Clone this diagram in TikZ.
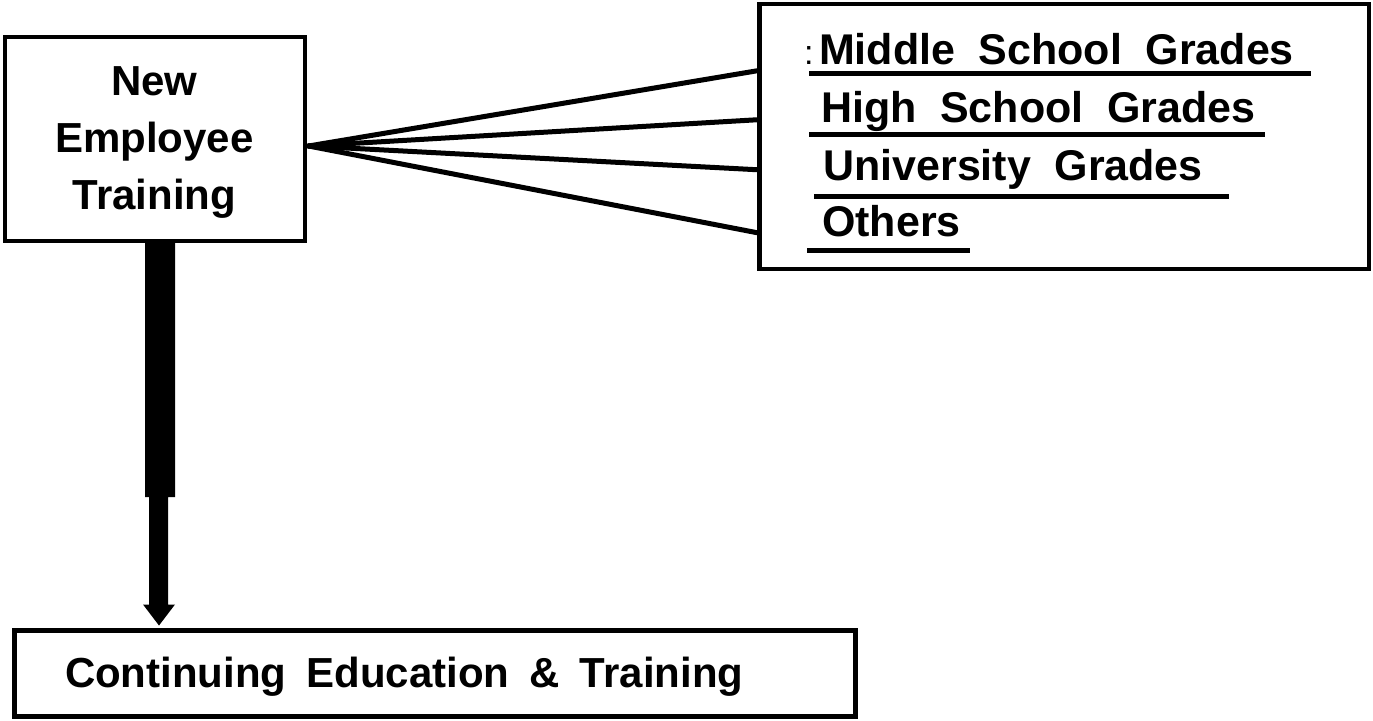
\documentclass[tikz,border=0pt]{standalone}
\usepackage{fontspec}
\setmainfont{Liberation Sans}
\usetikzlibrary{calc}
\newcommand\mywsp{\spaceskip=23.5pt\relax}
\newcommand\mywspb{\spaceskip=20pt\relax}
\begin{document}
\begin{tikzpicture}[x=1pt,y=-1pt,
  box/.style={draw=black, rectangle, inner sep=0pt},
  lefttext/.style={font=\bfseries\fontsize{42}{57}\selectfont, align=center},
  rtext/.style={font=\bfseries\fontsize{43}{43}\selectfont, anchor=base west, inner sep=0pt},
  fan/.style={line width=5pt, line cap=round},
  uline/.style={line width=5pt},
  arrowfill/.style={fill=black}]
\useasboundingbox (0,0) rectangle (1373,720);

% boxes
\node[box, lefttext, line width=4pt, minimum width=300pt, minimum height=204pt] (ne) at (154.5,139) {\rule{0pt}{35pt}New\\Employee\\Training};
\node[box, line width=4.5pt, minimum width=609.5pt, minimum height=265pt] (rb) at (1064.25,136.5) {};
\node[box, line width=5pt, minimum height=85.5pt, text width=739.5pt, align=left, inner xsep=51pt, inner ysep=0pt, text height=29.5pt, text depth=2pt,
      font=\bfseries\fontsize{42}{42}\selectfont] (ce) at (434.75,673.25) {\mywspb Continuing Education \& Training};

% list texts
\node[rtext] (t1) at (804,64) {\mywsp{\mdseries\fontsize{34}{34}\selectfont:}\hspace{5.5pt}Middle School Grades};
\node[rtext] (t2) at (821,122) {\mywsp High School Grades};
\node[rtext] (t3) at (823,180) {\mywsp University Grades};
\node[rtext] (t4) at (822,236) {Others};

% underlines
\draw[uline] ($(t1.base west)+(5,9)$) -- ++(502,0);
\draw[uline] ($(t2.base west)+(-12,12)$) -- ++(456,0);
\draw[uline] ($(t3.base west)+(-9,16)$) -- ++(415,0);
\draw[uline] ($(t4.base west)+(-15,14)$) -- ++(163,0);

% fan connectors
\coordinate (o) at ($(ne.east)+(2,7)$);
\draw[fan] (o) -- ($(rb.north west)+(0,69)$);
\draw[fan] (o) -- ($(rb.north west)+(0,118)$);
\draw[fan] (o) -- ($(rb.north west)+(0,168)$);
\draw[fan] (o) -- ($(rb.north west)+(0,231)$);

% thick arrow
\coordinate (tip) at ($(ce.north)+(-275.75,-2.5)$);
\fill[arrowfill] ($(ne.south)+(-9.5,0)$) -- ($(ne.south)+(20.5,0)$) -- ($(ne.south)+(20.5,254)$) -- ($(ne.south)+(13.5,254)$)
  -- ($(tip)+(9,-21)$) -- ($(tip)+(16,-21)$) -- (tip) -- ($(tip)+(-16,-21)$) -- ($(tip)+(-10,-21)$)
  -- ($(ne.south)+(-5.5,254)$) -- ($(ne.south)+(-9.5,254)$) -- cycle;
\end{tikzpicture}
\end{document}
